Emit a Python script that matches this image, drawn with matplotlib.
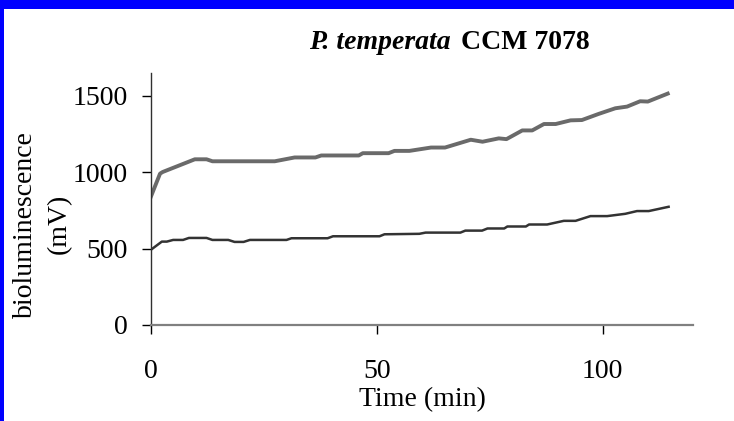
import matplotlib.pyplot as plt
from matplotlib.patches import Rectangle

upper_t = [0, 2.0, 2.6, 9.7, 12.3, 13.6, 27.4, 31.8, 36.4, 37.7, 46.0, 46.9, 52.6,
           53.9, 57.2, 62.0, 65.1, 70.8, 73.4, 77.0, 78.7, 82.2, 84.4, 87.0, 89.6,
           92.9, 95.4, 99.1, 102.8, 105.4, 108.3, 110.0, 114.4]
upper_mv = [842, 991, 1002, 1085, 1085, 1072, 1072, 1097, 1097, 1110, 1110, 1125, 1125,
            1140, 1140, 1162, 1162, 1213, 1200, 1222, 1217, 1274, 1274, 1316, 1316,
            1340, 1342, 1382, 1419, 1430, 1465, 1463, 1515]

lower_t = [0, 2.4, 3.5, 4.9, 7.1, 8.4, 12.3, 13.6, 17.1, 18.5, 20.5, 21.9, 30.0, 31.1,
           39.1, 40.3, 50.6, 51.7, 59.4, 60.8, 68.5, 69.6, 73.3, 74.5, 78.2, 78.9,
           83.0, 83.7, 87.7, 91.4, 94.0, 97.3, 101.0, 105.0, 107.6, 110.2, 114.6]
lower_mv = [493, 546, 546, 557, 557, 570, 570, 557, 557, 544, 544, 557, 557, 568,
            568, 581, 581, 594, 597, 605, 605, 618, 618, 632, 632, 645,
            645, 658, 658, 682, 682, 713, 713, 728, 746, 746, 774]

x_ticks = [0, 50, 100]
y_ticks = [0, 500, 1000, 1500]

plt.rcParams["font.family"] = ["Liberation Serif", "DejaVu Serif"]

fig = plt.figure(figsize=(7.34, 4.21), dpi=100)
fig.patch.set_facecolor("white")

# blue frame along top and left edge
fig.patches.append(Rectangle((0, 1 - 9 / 421), 1, 9 / 421, transform=fig.transFigure,
                             facecolor="#0000ff", edgecolor="none", zorder=0))
fig.patches.append(Rectangle((0, 0), 4 / 734, 1, transform=fig.transFigure,
                             facecolor="#0000ff", edgecolor="none", zorder=0))

ax = fig.add_axes([151 / 734, 1 - 325 / 421, 542 / 734, 252 / 421])

ax.plot(upper_t, upper_mv, color="#6a6a6a", lw=2.8)
ax.plot(lower_t, lower_mv, color="#333333", lw=1.8)

ax.set_xlim(0, 120)
ax.set_ylim(0, 1650)
ax.set_xticks(x_ticks)
ax.set_yticks(y_ticks)

for side in ["top", "right"]:
    ax.spines[side].set_visible(False)
ax.spines["left"].set_color("#303030")
ax.spines["left"].set_linewidth(1.0)
ax.spines["bottom"].set_color("#808080")
ax.spines["bottom"].set_linewidth(1.6)

ax.tick_params(axis="y", direction="out", length=6.5, width=1, color="black",
               labelsize=20, pad=10)
ax.tick_params(axis="x", direction="out", length=6.5, width=1, color="black",
               labelsize=20, pad=18)

ax.set_xlabel("Time (min)", fontsize=20)
ax.xaxis.set_label_coords(0.5, -0.298)
ax.xaxis.label.set_va("center")

ax.set_ylabel("bioluminescence\n(mV)", fontsize=20, linespacing=1.45)
ax.yaxis.set_label_coords(-0.200, 0.40)
ax.yaxis.label.set_va("center")

title_y = 1 - 49 / 421
fig.text(451 / 734, title_y, "P. temperata", fontsize=20, fontweight="bold",
         fontstyle="italic", ha="right", va="baseline")
fig.text(461 / 734, title_y, "CCM 7078", fontsize=20, fontweight="bold",
         ha="left", va="baseline")

fig.savefig("out.png", dpi=100)
